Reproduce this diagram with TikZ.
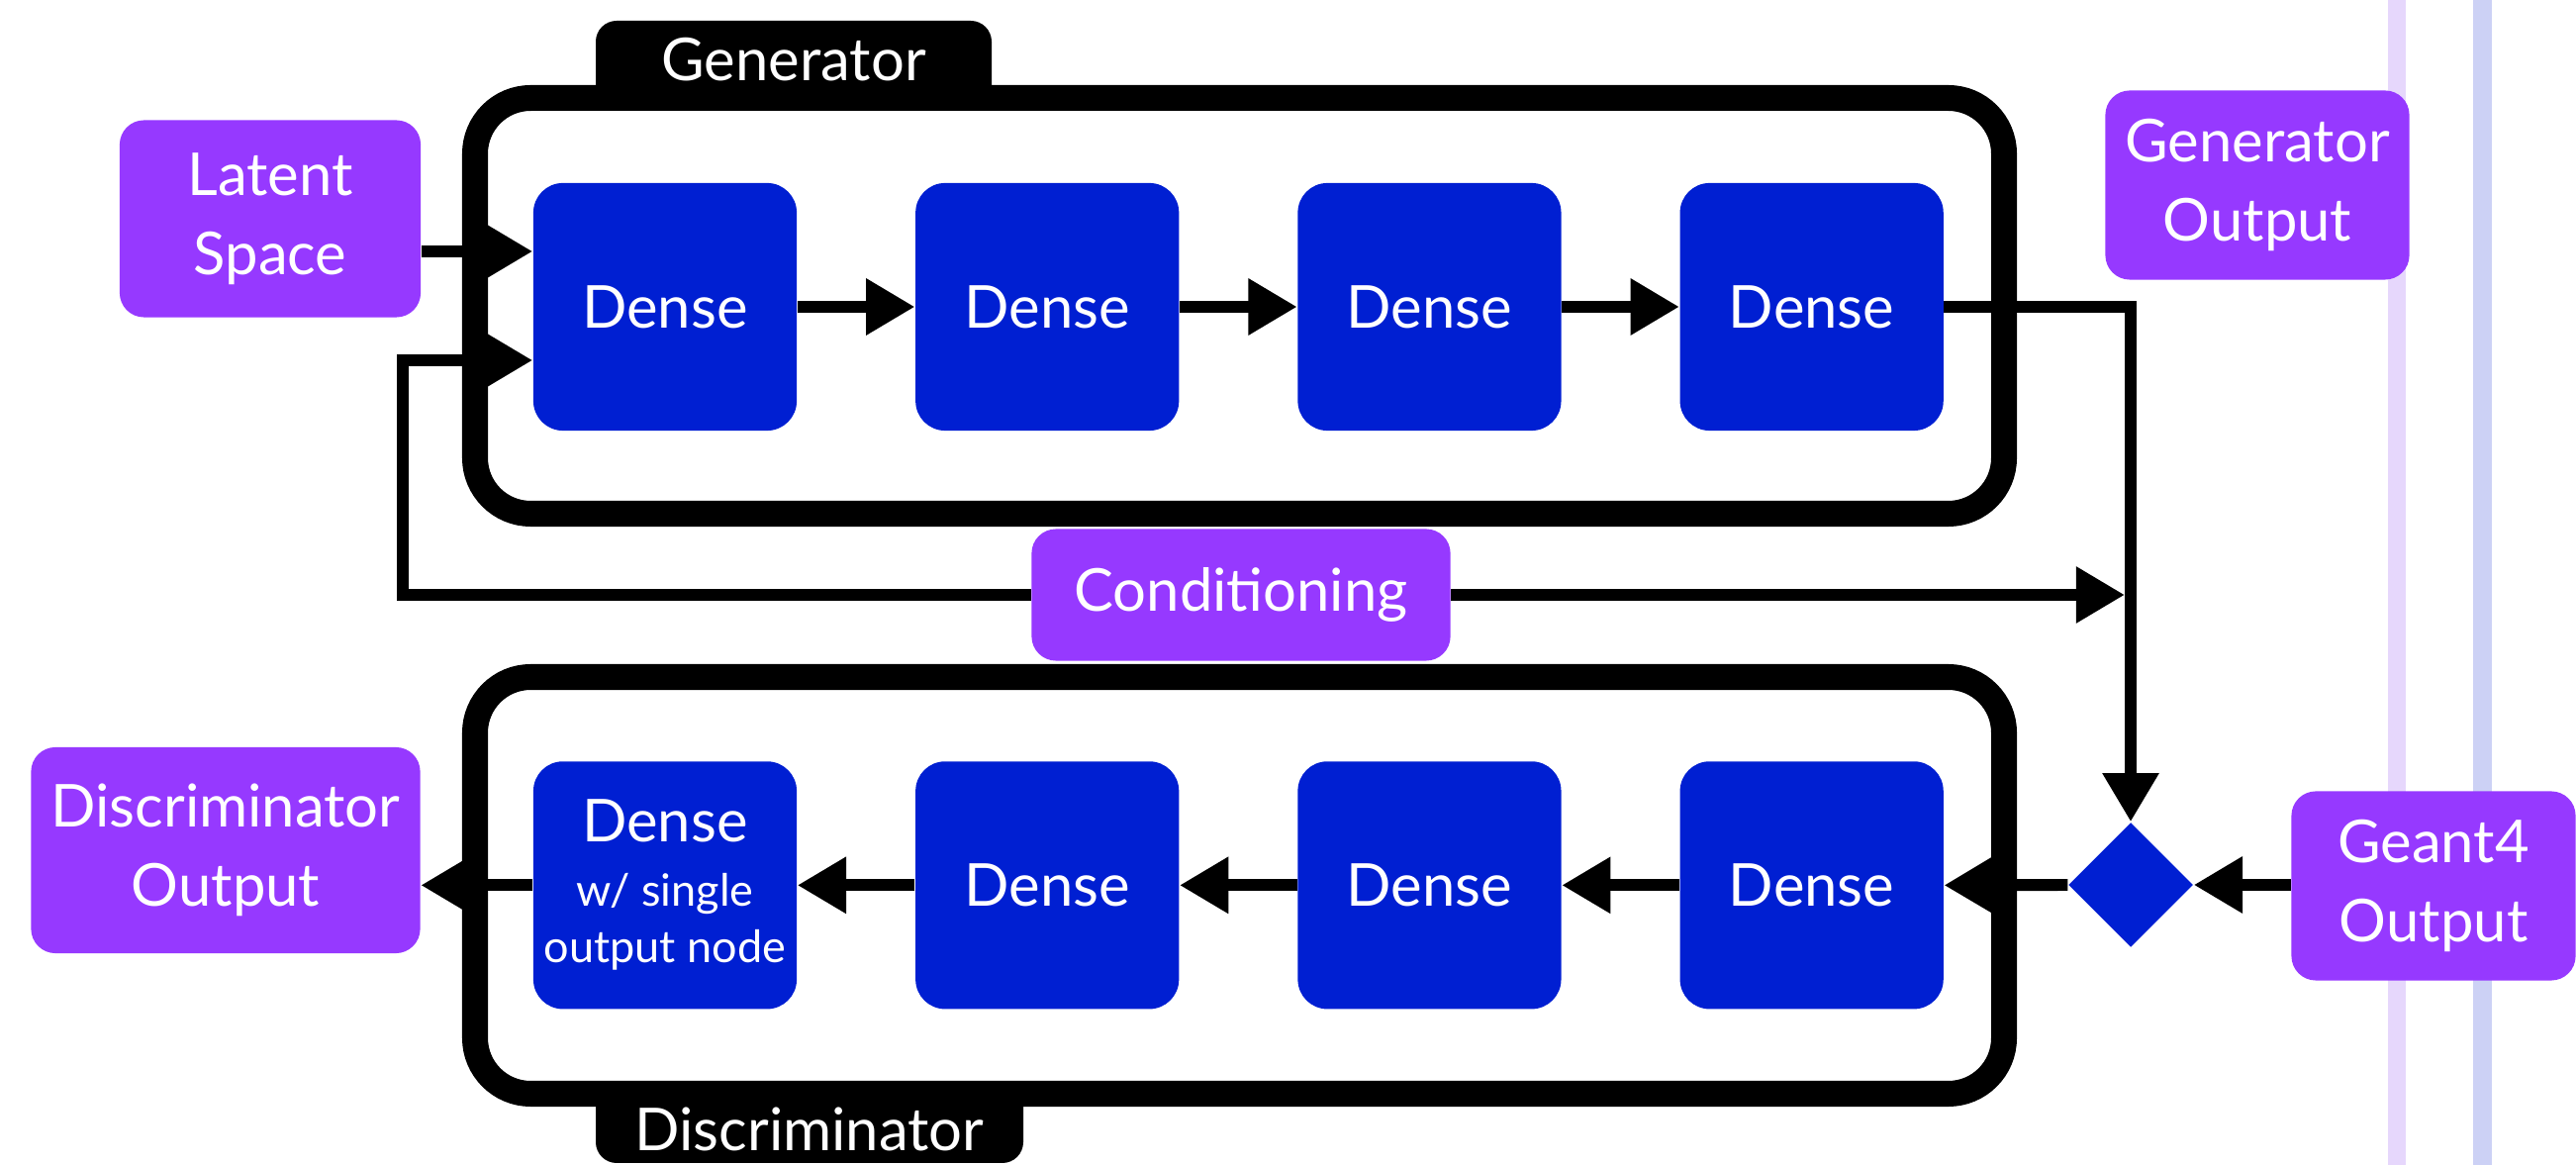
\documentclass[tikz,border=0pt]{standalone}
\usepackage{fontspec}
\setmainfont{Lato}
\usetikzlibrary{arrows.meta,positioning,shapes.geometric,calc}

\definecolor{netblue}{HTML}{001FD2}
\definecolor{iopurple}{HTML}{9639FF}
\definecolor{stripelilac}{HTML}{E6D7FC}
\definecolor{stripeblue}{HTML}{CCD1F5}

\newcommand\smalltext{\fontsize{12.8}{16}\selectfont}

\tikzset{
	dense/.style={rectangle,rounded corners=8.5pt,fill=netblue,text=white,minimum width=2.66cm,minimum height=2.5cm,inner sep=0pt},
	io/.style={rectangle,rounded corners=7pt,fill=iopurple,text=white,align=center,inner sep=0pt},
	frame/.style={line width=7.4pt,rounded corners=16pt},
	tab/.style={fill=black,rounded corners=6pt},
	flow/.style={line width=3.4pt,-{Triangle[length=14pt,width=15.4pt]}},
}

\begin{document}
\begin{tikzpicture}[x=0.01cm,y=-0.01cm,node distance=3.86cm,on grid,font=\fontsize{17}{22.8}\selectfont]
			\useasboundingbox (0,0) rectangle (2603,1177);
			% background stripes
			\fill[stripelilac] (2413,0) rectangle (2431,1177);
			\fill[stripeblue]  (2499,0) rectangle (2518,1177);

			% generator
			\node[dense] (g1) at (672,310) {Dense};
			\node[dense] (g2) [right=of g1] {Dense};
			\node[dense] (g3) [right=of g2] {Dense};
			\node[dense] (g4) [right=of g3] {Dense};

			% discriminator
			\node[dense,align=center] (d1) [below=5.84cm of g1] {Dense\\[-4.3pt]{\smalltext w/ single}\\[-6.6pt]{\smalltext output node}};
			\node[dense] (d2) [right=of d1] {Dense};
			\node[dense] (d3) [right=of d2] {Dense};
			\node[dense] (d4) [right=of d3] {Dense};

			% inputs and outputs
			\node[io,minimum width=3.04cm,minimum height=1.99cm] (latent)  at (273,221)  {Latent\\Space};
			\node[io,minimum width=3.07cm,minimum height=1.91cm] (genout)  at (2281,187) {Generator\\Output};
			\node[io,minimum width=3.93cm,minimum height=2.08cm] (discout) at (228,859)  {Discriminator\\Output};
			\node[io,minimum width=2.87cm,minimum height=1.91cm] (geant)   at (2459,895) {Geant4\\Output};
			\node[io,minimum width=4.23cm,minimum height=1.33cm] (cond)    at (1254,601) {Conditioning};
			\node[diamond,fill=netblue,minimum size=1.26cm,inner sep=0pt] (mix) at (2153,894) {};

			\coordinate (latin)   at ($(g1.west)+(0,-56)$);
			\coordinate (condin)  at ($(g1.west)+(0,54)$);
			\coordinate (loop)    at (407,601);
			\coordinate (condout) at (2147,601);

			\draw[flow] (latent.east |- latin) -- (latin);
			\draw[flow] (cond.west) -- (loop) |- (condin);
			\draw[flow] (cond.east) -- (condout);
			\foreach \a/\b in {g1/g2,g2/g3,g3/g4}
				\draw[flow] (\a) -- (\b);
			\draw[flow] (g4.east) -| (mix.north);
			\draw[flow] (geant.west |- mix) -- (mix.east);
			\draw[flow] (mix.west) -- (d4.east);
			\foreach \a/\b in {d4/d3,d3/d2,d2/d1}
				\draw[flow] (\a) -- (\b);
			\draw[flow] (d1.west) -- (d1.west -| discout.east);

			% frames with their tabs
			\draw[frame] (480,99) rectangle (2025,519);
			\draw[frame] (480,684) rectangle (2025,1105);
			\fill[tab] (602,21) rectangle (1002,110);
			\node[text=white] (gentab) at (802,60) {Generator};
			\fill[tab] (602,1095) rectangle (1034,1175);
			\node[text=white] (disctab) at (818,1141) {Discriminator};

\end{tikzpicture}
\end{document}
